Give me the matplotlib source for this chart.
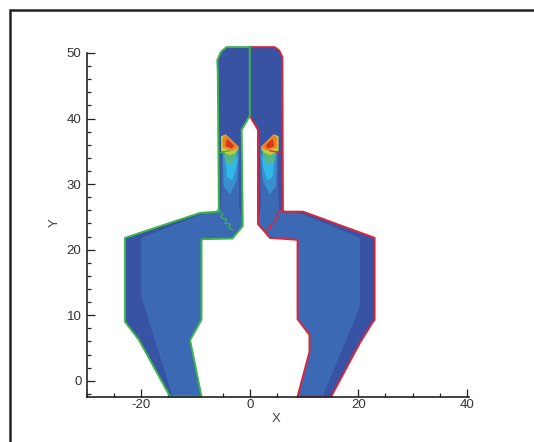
import matplotlib
matplotlib.use("Agg")
import matplotlib.pyplot as plt
from matplotlib.lines import Line2D

plt.rcParams['font.family'] = ['Liberation Sans', 'DejaVu Sans']

# Boundary of each half of the domain
right_x = [0, 4.6, 5.4, 6.0, 6.1, 9.8, 23.0, 23.0, 22.7, 20.3, 15.0, 8.8, 11.0, 11.0, 8.8, 8.8, 3.7, 2.8, 1.5, 1.5, 0]
right_y = [50.9, 50.9, 50.4, 49.4, 25.8, 25.8, 21.8, 9.3, 9.0, 5.8, -2.4, -2.4, 4.4, 7.0, 9.4, 21.5, 21.8, 22.7, 23.9, 38.3, 40.4]
left_x = [0, -4.3, -5.3, -6.0, -5.9, -5.7, -9.2, -23.0, -23.0, -20.4, -14.7, -8.9, -11.0, -8.9, -8.9, -3.2, -1.3, -1.5, 0, 0]
left_y = [50.9, 50.9, 50.2, 48.9, 47.0, 25.8, 25.6, 21.8, 9.0, 6.2, -2.4, -2.4, 6.2, 9.3, 21.6, 21.7, 23.6, 38.3, 40.4, 50.9]

# Contour bands
mid_right_x = [1.9, 5.2, 5.2, 5.4, 9.8, 20.3, 20.3, 13.4, 8.8, 11.0, 11.0, 8.8, 8.8, 3.7, 2.8, 1.5, 2.0]
mid_right_y = [35.4, 35.7, 29.1, 26.1, 25.4, 21.8, 11.3, -2.4, -2.4, 4.4, 7.0, 9.4, 21.5, 21.8, 22.7, 23.9, 27.0]
mid_left_x = [-1.9, -5.2, -5.2, -5.4, -9.2, -20.0, -20.0, -14.2, -8.9, -11.0, -8.9, -8.9, -3.2, -1.3, -2.0]
mid_left_y = [35.4, 35.7, 29.1, 26.1, 25.3, 21.8, 12.8, -2.4, -2.4, 6.2, 9.3, 21.6, 21.7, 23.6, 27.0]

light_x = [2.0, 5.0, 4.8, 3.6, 2.4]
light_y = [34.6, 35.0, 29.6, 28.4, 30.6]
cyan_x = [2.2, 4.6, 4.2, 3.2, 2.6]
cyan_y = [34.0, 34.5, 31.0, 30.6, 32.2]
green_x = [2.0, 5.0, 4.5, 3.1]
green_y = [35.4, 35.7, 33.3, 33.0]
yellow_x = [2.0, 4.4, 5.3, 5.3, 3.8, 2.8]
yellow_y = [35.6, 37.6, 37.3, 35.1, 34.4, 34.7]
orange_x = [2.0, 4.4, 5.0, 5.0, 3.1]
orange_y = [35.7, 37.5, 37.1, 35.6, 35.1]
red_x = [2.9, 4.2, 4.5, 3.3]
red_y = [35.9, 36.9, 35.8, 35.4]

# Jagged interior boundary pieces
shoulder_x = [5.8, 5.0, 5.3, 4.3, 4.6, 3.6, 3.9, 3.1]
shoulder_y = [26.1, 25.4, 24.9, 24.6, 24.0, 23.9, 23.3, 23.0]
stub_x = [5.5, 3.7]
stub_y = [34.8, 35.1]

x_major = [-20, 0, 20, 40]
x_minor = [-30, -25, -15, -10, -5, 5, 10, 15, 25, 30, 35]
y_major = [0, 10, 20, 30, 40, 50]
y_minor = [-2, 2, 4, 6, 8, 12, 14, 16, 18, 22, 24, 26, 28, 32, 34, 36, 38, 42, 44, 46, 48]

C_DARK, C_MID = '#3853a4', '#3b69b3'
C_GREEN, C_RED = '#3db54a', '#d7263d'

W, H = 534, 442
fig = plt.figure(figsize=(W / 100, H / 100), dpi=100)
L, R, T, B = 87, 468.5, 53, 396.5
ax = fig.add_axes([L / W, 1 - B / H, (R - L) / W, (B - T) / H])
ax.set_xlim(-30, 40.3)
ax.set_ylim(-2.4, 50)

ax.fill(right_x, right_y, color=C_DARK, lw=0, clip_on=False, zorder=1)
ax.fill(left_x, left_y, color=C_DARK, lw=0, clip_on=False, zorder=1)
ax.fill(mid_right_x, mid_right_y, color=C_MID, lw=0, zorder=2)
ax.fill(mid_left_x, mid_left_y, color=C_MID, lw=0, zorder=2)

bands = [(light_x, light_y, '#3a8fd0'), (cyan_x, cyan_y, '#2fb8e8'),
         (green_x, green_y, '#55b88a'), (yellow_x, yellow_y, '#c4cc38'),
         (orange_x, orange_y, '#f08020'), (red_x, red_y, '#d9341f')]
for i, (bx, by, c) in enumerate(bands):
    ax.fill(bx, by, color=c, lw=0, zorder=3 + i)
    ax.fill([-v for v in bx], by, color=c, lw=0, zorder=3 + i)

ax.plot(right_x, right_y, color=C_RED, lw=1.4, clip_on=False, zorder=10)
ax.plot(left_x, left_y, color=C_GREEN, lw=1.4, clip_on=False, zorder=11)
ax.plot(shoulder_x, shoulder_y, color=C_RED, lw=0.9, zorder=10)
ax.plot([-v for v in shoulder_x], shoulder_y, color=C_GREEN, lw=0.9, zorder=10)
ax.plot(stub_x, stub_y, color=C_RED, lw=1.0, zorder=10)
ax.plot([-v for v in stub_x], stub_y, color=C_GREEN, lw=1.0, zorder=10)

for s in ('top', 'right'):
    ax.spines[s].set_visible(False)
for s in ('left', 'bottom'):
    ax.spines[s].set_linewidth(1.2)
    ax.spines[s].set_color('#222222')
    ax.spines[s].set_zorder(12)

ax.set_xticks(x_major)
ax.set_xticks(x_minor, minor=True)
ax.set_yticks(y_major)
ax.set_yticks(y_minor, minor=True)
ax.tick_params(which='major', direction='in', length=6, width=0.9, color='#222222',
               labelsize=9.5, labelcolor='#333333', pad=1.5, zorder=12)
ax.tick_params(which='minor', direction='in', length=3.2, width=0.9, color='#222222')
ax.tick_params(axis='y', which='major', pad=4)
ax.set_xticklabels([str(v) for v in x_major])
ax.set_yticklabels([str(v) for v in y_major])
ax.set_xlabel('X', fontsize=9.5, color='#444444', labelpad=2, x=0.495)
ax.set_ylabel('Y', fontsize=9.5, color='#444444', labelpad=4, y=0.505)

fig.add_artist(Line2D([9.5 / W, 9.5 / W, 1], [0, 1 - 9.5 / H, 1 - 9.5 / H],
                      transform=fig.transFigure, color='#222222', lw=1.8,
                      solid_joinstyle='miter'))
fig.savefig('out.png', dpi=100)
